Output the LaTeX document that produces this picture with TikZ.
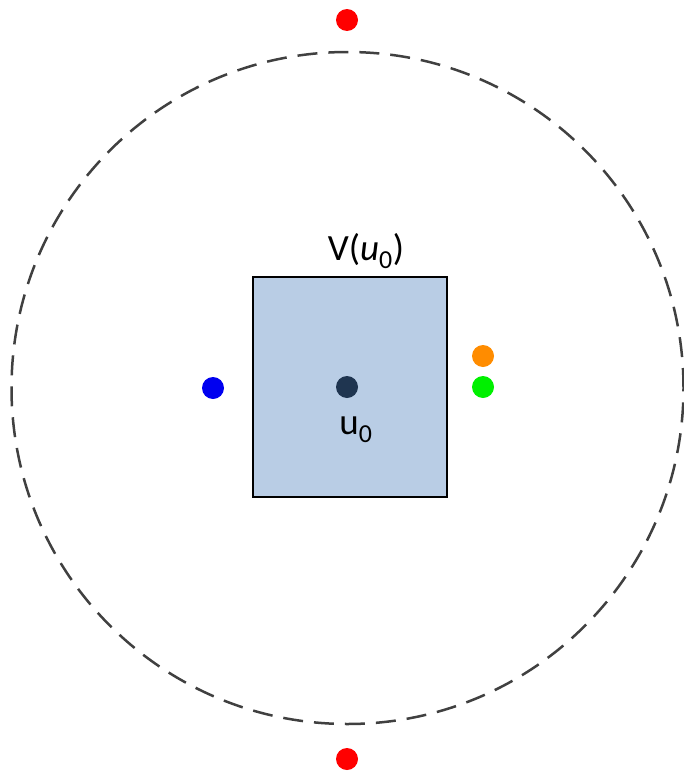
\documentclass[tikz,border=0pt]{standalone}
\usepackage{fontspec}
\setmainfont{Carlito}
\begin{document}
\begin{tikzpicture}[x=1pt,y=-1pt,
  dot/.style={circle,inner sep=0pt,minimum size=22pt},
  lbl/.style={font=\fontsize{37}{42}\selectfont,inner sep=0pt}]
\useasboundingbox (0,0) rectangle (684,771);
\definecolor{boxfill}{HTML}{B9CDE5}
\definecolor{dotdark}{HTML}{1F3550}
\definecolor{ringgray}{HTML}{404040}
\definecolor{dotorange}{HTML}{FF8C00}
\definecolor{dotgreen}{HTML}{00F000}
\definecolor{dotblue}{HTML}{0000F0}
\node[draw=ringgray,line width=2.5pt,dash pattern=on 20pt off 11pt,circle,minimum size=672pt,inner sep=0pt] (ring) at (347.5,388) {};
\node[draw=black,line width=2.5pt,fill=boxfill,minimum width=194pt,minimum height=220pt,inner sep=0pt] (box) at (350,387) {};
\node[dot,fill=dotdark] (u0) at (347,387) {};
\node[lbl] (u0lbl) at (356,430) {u\textsubscript{0}};
\node[lbl] (vlbl) at (366,251) {V(\textit{u}\textsubscript{0})};
\node[dot,fill=red] (top) at (347,20) {};
\node[dot,fill=red] (bottom) at (347,759) {};
\node[dot,fill=dotblue] (blue) at (213,388) {};
\node[dot,fill=dotorange] (orange) at (483,356) {};
\node[dot,fill=dotgreen] (green) at (483,387) {};
\end{tikzpicture}
\end{document}
